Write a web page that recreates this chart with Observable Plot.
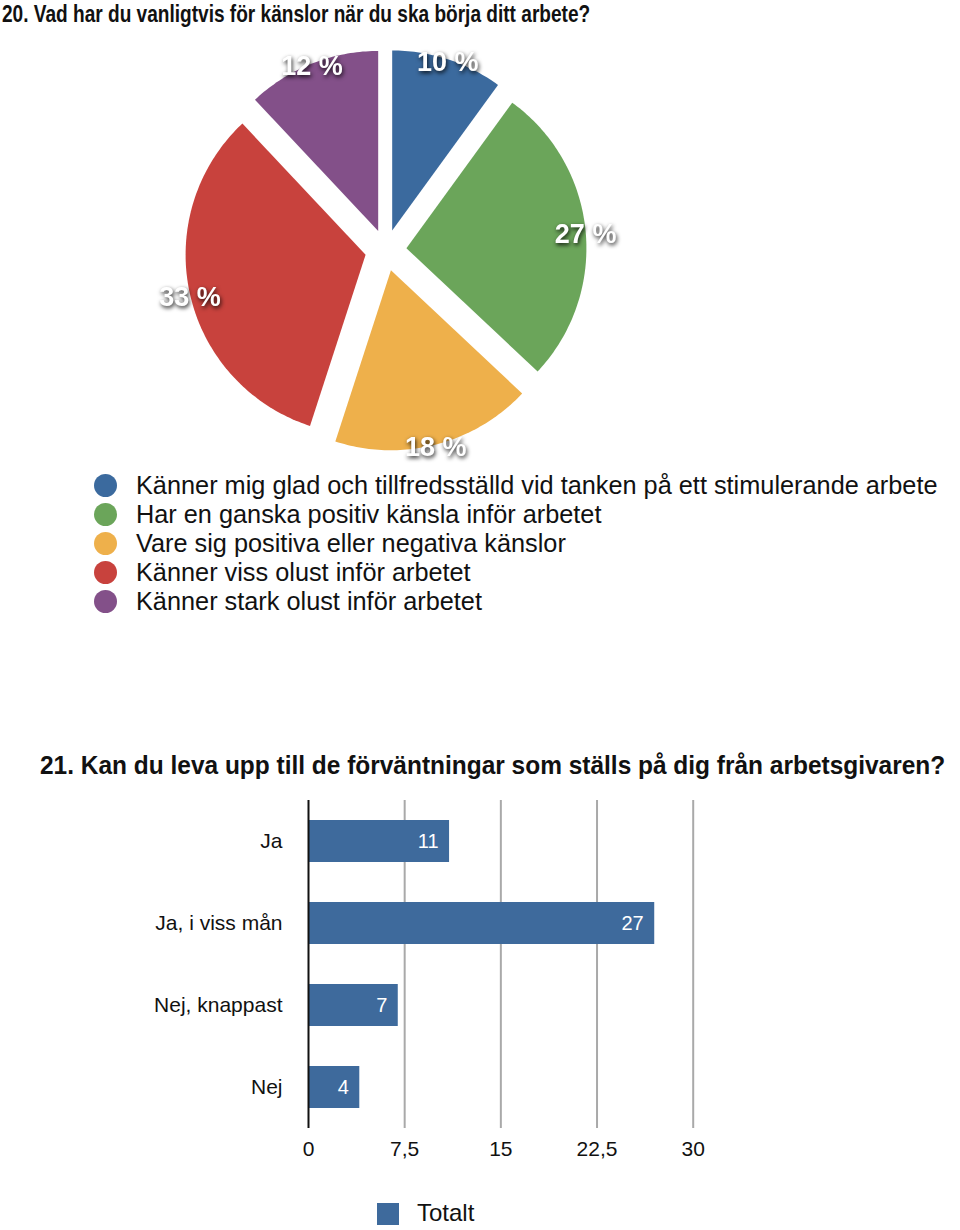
<!DOCTYPE html>
<html>
<head>
<meta charset="utf-8">
<script src="https://cdn.jsdelivr.net/npm/d3@7"></script>
<script src="https://cdn.jsdelivr.net/npm/@observablehq/plot@0.6"></script>
<style>
  body { margin: 0; background: #fff; font-family: "Liberation Sans", Arial, Helvetica, sans-serif; color: #111; }
  #page { position: relative; width: 960px; height: 1230px; overflow: hidden; background: #fff; }
  .abs { position: absolute; }
  .title { font-weight: bold; font-size: 25px; line-height: 1.15; white-space: nowrap; transform-origin: 0 0; }
  .leg-row { position: absolute; left: 0; height: 29px; line-height: 29px; font-size: 25.3px; white-space: nowrap; }
  .leg-dot { position: absolute; width: 23px; height: 23px; border-radius: 50%; top: 3px; }
  .leg-text { position: absolute; left: 136px; top: 0; }
  #bar svg g[aria-label^="y-axis"] text { font-size: 21px; }
  #bar svg g[aria-label^="x-axis"] text { font-size: 21px; }
</style>
</head>
<body>
<div id="page"></div>
<script>
// ---------- data ----------
const pieTitle = "20. Vad har du vanligtvis för känslor när du ska börja ditt arbete?";
const pieCategories = [
  "Känner mig glad och tillfredsställd vid tanken på ett stimulerande arbete",
  "Har en ganska positiv känsla inför arbetet",
  "Vare sig positiva eller negativa känslor",
  "Känner viss olust inför arbetet",
  "Känner stark olust inför arbetet"
];
const pieValues = [10, 27, 18, 33, 12];
const pieColors = ["#3b6a9e", "#6ba55a", "#eeb04b", "#c8423d", "#835089"];

const barTitle = "21. Kan du leva upp till de förväntningar som ställs på dig från arbetsgivaren?";
const barCategories = ["Ja", "Ja, i viss mån", "Nej, knappast", "Nej"];
const barValues = [11, 27, 7, 4];
const barTicks = [0, 7.5, 15, 22.5, 30];
const barSeries = "Totalt";
const barColor = "#3e6a9c";

// ---------- helpers ----------
const page = document.getElementById("page");
function place(el, left, top) { el.classList.add("abs"); el.style.left = left + "px"; el.style.top = top + "px"; page.appendChild(el); return el; }
function fitTitle(text, left, top, width, size) {
  const d = document.createElement("div");
  d.className = "title";
  d.style.fontSize = size + "px";
  d.textContent = text;
  place(d, left, top);
  const w = d.offsetWidth;
  if (w > 0) d.style.transform = `scaleX(${width / w})`;
  return d;
}

// ---------- chart 20: exploded pie ----------
fitTitle(pieTitle, 2, 0, 588, 24);

const W = 960, PH = 440, cx = 385.3, cy = 219.7, R = 180, explode = 0.115, labelR = 1.115;
const total = d3.sum(pieValues);
let acc = 0;
const slices = pieCategories.map((c, i) => {
  const a0 = acc / total * 2 * Math.PI; acc += pieValues[i];
  const a1 = acc / total * 2 * Math.PI;
  return {cat: c, value: pieValues[i], a0, a1, mid: (a0 + a1) / 2};
});
const piePts = slices.flatMap(s => {
  const ox = explode * Math.sin(s.mid), oy = -explode * Math.cos(s.mid);
  const n = Math.max(2, Math.ceil((s.a1 - s.a0) / (Math.PI / 180)));
  const pts = [{cat: s.cat, x: ox, y: oy}];
  for (let k = 0; k <= n; k++) {
    const a = s.a0 + (s.a1 - s.a0) * k / n;
    pts.push({cat: s.cat, x: ox + Math.sin(a), y: oy - Math.cos(a)});
  }
  return pts;
});

const pie = Plot.plot({
  width: W, height: PH, margin: 0,
  style: {background: "transparent", fontFamily: "'Liberation Sans', Arial, Helvetica, sans-serif"},
  x: {domain: [-cx / R, (W - cx) / R], range: [0, W], axis: null},
  y: {domain: [-cy / R, (PH - cy) / R], range: [0, PH], axis: null},
  color: {domain: pieCategories, range: pieColors},
  marks: [
    Plot.line(piePts, {x: "x", y: "y", z: "cat", fill: "cat", stroke: "none", curve: "linear-closed"}),
    Plot.text(slices, {
      x: s => labelR * Math.sin(s.mid), y: s => -labelR * Math.cos(s.mid),
      text: s => `${s.value} %`, fill: "white", fontSize: 27, fontWeight: "bold", dy: 3
    })
  ]
});
pie.style.position = "absolute"; pie.style.left = "0px"; pie.style.top = "30px";
page.appendChild(pie);
pie.querySelectorAll('g[aria-label="text"]').forEach(g => g.style.filter = "drop-shadow(1px 2px 2px rgba(0,0,0,0.85))");

// legend (HTML, below the pie)
pieCategories.forEach((c, i) => {
  const row = document.createElement("div");
  row.className = "leg-row";
  row.style.top = (471 + 29 * i) + "px";
  row.style.width = "960px";
  const dot = document.createElement("div");
  dot.className = "leg-dot"; dot.style.left = "94px"; dot.style.background = pieColors[i];
  const t = document.createElement("div");
  t.className = "leg-text"; t.textContent = c;
  row.appendChild(dot); row.appendChild(t);
  page.appendChild(row);
});

// ---------- chart 21: horizontal bars ----------
fitTitle(barTitle, 40, 751, 905, 25);

const barData = barCategories.map((c, i) => ({cat: c, value: barValues[i]}));
const bar = Plot.plot({
  width: 960, height: 380,
  marginTop: 10, marginBottom: 42, marginLeft: 308, marginRight: 267.3,
  style: {background: "transparent", fontSize: "21px", color: "#111", fontFamily: "'Liberation Sans', Arial, Helvetica, sans-serif"},
  x: {domain: [0, 30], ticks: barTicks, tickFormat: d => String(d).replace(".", ","), tickSize: 0, tickPadding: 13, label: null},
  y: {domain: barCategories, paddingInner: 0.49, paddingOuter: 0.245, tickSize: 0, tickPadding: 26, label: null},
  marks: [
    Plot.ruleX(barTicks.filter(t => t > 0), {stroke: "#a9a9a9", strokeWidth: 2}),
    Plot.barX(barData, {x: "value", y: "cat", fill: barColor}),
    Plot.ruleX([0], {stroke: "#111", strokeWidth: 2}),
    Plot.text(barData, {x: "value", y: "cat", text: d => String(d.value), textAnchor: "end", dx: -11, fill: "white", fontSize: 20})
  ]
});
const barWrap = document.createElement("div");
barWrap.id = "bar";
barWrap.appendChild(bar);
place(barWrap, 0, 790);

// series legend
const sw = document.createElement("div");
sw.style.width = "22px"; sw.style.height = "22px"; sw.style.background = barColor;
place(sw, 377, 1203);
const st = document.createElement("div");
st.textContent = barSeries;
st.style.fontSize = "24px"; st.style.lineHeight = "24px"; st.style.whiteSpace = "nowrap";
place(st, 417, 1201);
</script>
</body>
</html>
